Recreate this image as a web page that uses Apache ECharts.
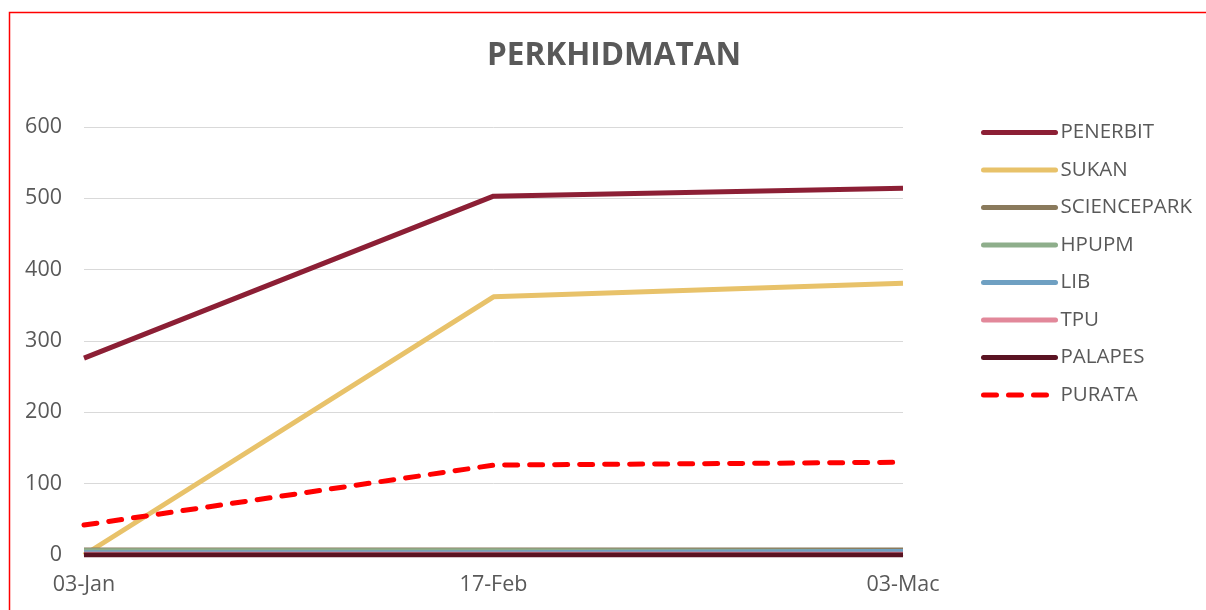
<!DOCTYPE html>
<html><head><meta charset="utf-8">
<script src="https://cdn.jsdelivr.net/npm/echarts@6/dist/echarts.min.js"></script>
<style>html,body{margin:0;padding:0;background:#fff}#c{width:1206px;height:610px}</style>
</head><body><div id="c"></div>
<script>
var categories = ['03-Jan', '17-Feb', '03-Mac'];
var seriesNames = ['PENERBIT', 'SUKAN', 'SCIENCEPARK', 'HPUPM', 'LIB', 'TPU', 'PALAPES', 'PURATA'];
var penerbit = [276, 503, 514];
var sukan = [0, 362, 381];
var sciencepark = [7, 7, 7];
var hpupm = [6, 6, 5];
var lib = [3, 3, 5];
var tpu = [1, 1, 1];
var palapes = [0, 0, 0];
var purata = [42, 126, 130];
var yTicks = [0, 100, 200, 300, 400, 500, 600];
var colors = ['#8C1F35', '#E8C26A', '#8A7A5C', '#8EAE8B', '#6FA0C2', '#E2889A', '#5A1322', '#FF0000'];

var dataSets = [penerbit, sukan, sciencepark, hpupm, lib, tpu, palapes, purata];
var font = 'Open Sans';
var series = seriesNames.map(function (n, i) {
  var dashed = n === 'PURATA';
  return {
    name: n, type: 'line', data: dataSets[i], symbol: 'none',
    z: dashed ? 10 : 2 + i,
    lineStyle: { color: colors[i], width: 5, type: dashed ? [13, 12] : 'solid', cap: dashed ? 'round' : 'butt' },
    itemStyle: { color: colors[i] }
  };
});

var chart = echarts.init(document.getElementById('c'));
chart.setOption({
  animation: false,
  backgroundColor: '#fff',
  title: { text: 'PERKHIDMATAN', left: 609, textAlign: 'center', top: 35,
    textStyle: { fontFamily: font, fontWeight: 'bold', fontSize: 31.5, color: '#595959' } },
  grid: { left: 84, right: 303, top: 127, bottom: 55, containLabel: false },
  xAxis: { type: 'category', data: categories, boundaryGap: false,
    axisLine: { lineStyle: { color: '#d9d9d9' } }, axisTick: { show: false },
    axisLabel: { fontFamily: font, fontSize: 21.5, color: '#595959', margin: 19 } },
  yAxis: { type: 'value', min: yTicks[0], max: yTicks[yTicks.length - 1], interval: 100,
    axisLine: { show: false }, axisTick: { show: false },
    splitLine: { lineStyle: { color: '#d9d9d9', width: 1 } },
    axisLabel: { fontFamily: font, fontSize: 21.5, color: '#595959', margin: 22 } },
  legend: { orient: 'vertical', left: 981, top: 122, padding: 0, itemWidth: 72, itemHeight: 14, itemGap: 16.5,
    data: seriesNames,
    itemStyle: { opacity: 0 },
    lineStyle: { width: 5, cap: 'round' },
    textStyle: { fontFamily: font, fontSize: 20.5, color: '#595959' } },
  graphic: [{ type: 'rect', shape: { x: 9.5, y: 12.5, width: 1300, height: 700 },
    style: { fill: 'none', stroke: '#FF0000', lineWidth: 1.5 }, silent: true, z: 100 }],
  series: series
});
</script></body></html>
